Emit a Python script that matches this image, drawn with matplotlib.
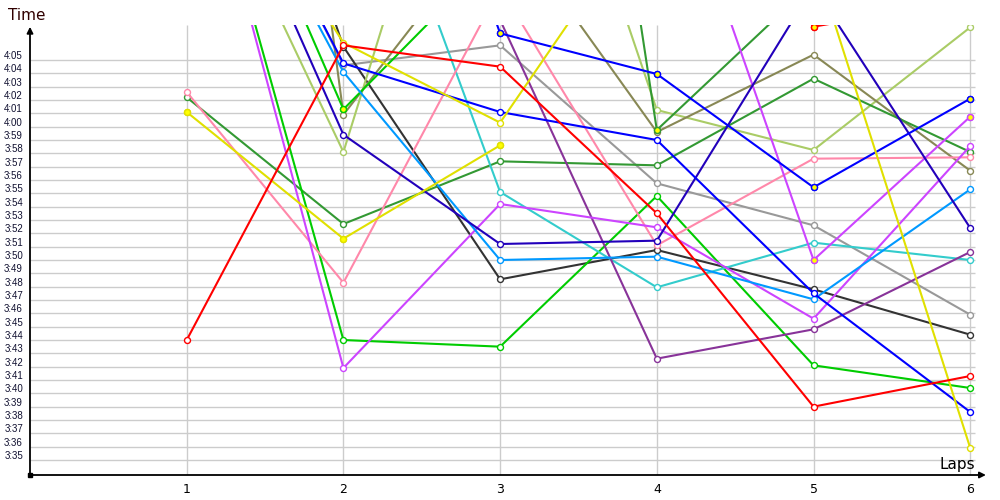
import numpy as np
import matplotlib.pyplot as plt
from matplotlib.ticker import FixedLocator
from matplotlib.transforms import ScaledTranslation

nan = np.nan
laps = [1, 2, 3, 4, 5, 6]

# lap times in seconds, values above ~4:07.6 are off the top of the chart
red_a = [224.0, 246.1, 244.5, 233.5, 219.0, 221.3]
red_b = [272.0, 270.0, 265.0, 262.0, 247.5, 249.5]
yellow_a = [241.1, 231.6, 238.6, nan, nan, nan]
yellow_b = [264.7, 246.3, 240.3, 257.4, 252.7, 215.9]
forest_a = [242.2, 232.7, 237.4, 237.1, 243.6, 238.1]
forest_b = [270.0, 268.0, 317.0, 239.75, 250.8, 252.0]
olive = [330.0, 240.9, 256.0, 239.6, 245.4, 236.7]
green_a = [268.3, 241.3, 253.2, 258.0, 260.0, 262.0]
green_b = [266.0, 224.0, 223.5, 234.8, 222.1, 220.4]
lolive = [262.9, 238.1, 276.0, 241.25, 238.25, 247.45]
magenta_a = [266.0, 221.9, 234.2, 232.45, 225.6, 238.55]
magenta_b = [270.0, 268.0, 266.0, 263.7, 230.0, 240.75]
purple = [270.0, 275.0, 248.0, 222.6, 224.8, 230.6]
pink = [242.6, 228.3, 250.4, 231.1, 237.6, 237.7]
cyan = [270.0, 267.0, 235.1, 227.95, 231.3, 230.0]
black = [280.0, 246.0, 228.55, 230.75, 227.8, 224.4]
gray = [268.0, 244.6, 246.1, 235.75, 232.6, 225.9]
dodger = [266.1, 244.1, 230.0, 230.25, 227.05, 235.3]
blue_a = [267.3, 244.75, 241.1, 239.0, 227.5, 218.6]
blue_b = [285.0, 280.0, 247.0, 243.95, 235.45, 242.1]
navy = [265.9, 239.4, 231.2, 231.45, 250.5, 232.4]

# third item: laps drawn with a yellow filled marker
series = [
    (gray, '#999999', []),
    (black, '#333333', []),
    (lolive, '#AACC66', []),
    (olive, '#888855', []),
    (forest_b, '#339933', [4]),
    (forest_a, '#339933', []),
    (green_a, '#00CC00', [2]),
    (green_b, '#00CC00', []),
    (cyan, '#33CCCC', []),
    (pink, '#FF88AA', []),
    (purple, '#883399', []),
    (magenta_a, '#CC44FF', []),
    (magenta_b, '#CC44FF', [5, 6]),
    (dodger, '#0099FF', []),
    (navy, '#2200BB', []),
    (blue_a, '#0000FF', []),
    (blue_b, '#0000FF', [3, 4, 5, 6]),
    (yellow_b, '#E0E000', []),
    (yellow_a, '#E0E000', [1, 2, 3]),
    (red_b, '#FF0000', [5]),
    (red_a, '#FF0000', []),
]

ytick_vals = list(range(215, 246))


def fmt(s):
    return "%d:%02d" % (s // 60, s % 60)


fig = plt.figure(figsize=(10, 5), dpi=100)
ax = fig.add_axes([0.03, 0.05, 0.9559, 0.9])
ax.set_xlim(0, 6.1)
ax.set_ylim(213.875, 247.625)

# grid
ax.hlines(ytick_vals, 0, 6.03, colors='#cccccc', lw=1, zorder=0)
ax.vlines(laps, 213.875, 247.625, colors='#cccccc', lw=1, zorder=0)

for vals, col, hl in series:
    ax.plot(laps, vals, color=col, lw=1.5, marker='o', ms=4.3,
            mfc='white', mec=col, mew=1, zorder=2)
    if hl:
        ax.plot([laps[i - 1] for i in hl], [vals[i - 1] for i in hl], 'o',
                ms=4.3, mfc='#FFFF00', mec=col, mew=1, zorder=3)

for sp in ax.spines.values():
    sp.set_visible(False)

ax.yaxis.set_major_locator(FixedLocator(ytick_vals))
ax.set_yticklabels([fmt(v) for v in ytick_vals], fontsize=7,
                   family='Liberation Sans', color='#101030')
ax.set_xticks(laps)
ax.set_xticklabels([str(l) for l in laps], fontsize=9)
ax.tick_params(axis='both', length=0)
ax.tick_params(axis='y', pad=5)
ax.tick_params(axis='x', pad=6)
off = ScaledTranslation(0, 5 / 100, fig.dpi_scale_trans)
for lab in ax.get_yticklabels():
    lab.set_transform(lab.get_transform() + off)

# axes with arrows
ax.annotate('', xy=(0, 1.0 - 0.004), xytext=(0, 0), xycoords='axes fraction',
            arrowprops=dict(arrowstyle='-|>', color='black', lw=1.3,
                            mutation_scale=9, shrinkA=0, shrinkB=0),
            annotation_clip=False)
ax.annotate('', xy=(1.0, 0), xytext=(0, 0), xycoords='axes fraction',
            arrowprops=dict(arrowstyle='-|>', color='black', lw=1.3,
                            mutation_scale=9, shrinkA=0, shrinkB=0),
            annotation_clip=False)
ax.plot([0], [213.875], 's', color='black', ms=3, clip_on=False, zorder=5)

fig.text(0.008, 0.97, 'Time', fontsize=11, color='#300000', va='center', ha='left')
fig.text(0.975, 0.07, 'Laps', fontsize=11, color='black', va='center', ha='right')

fig.savefig('out.png', dpi=100)
